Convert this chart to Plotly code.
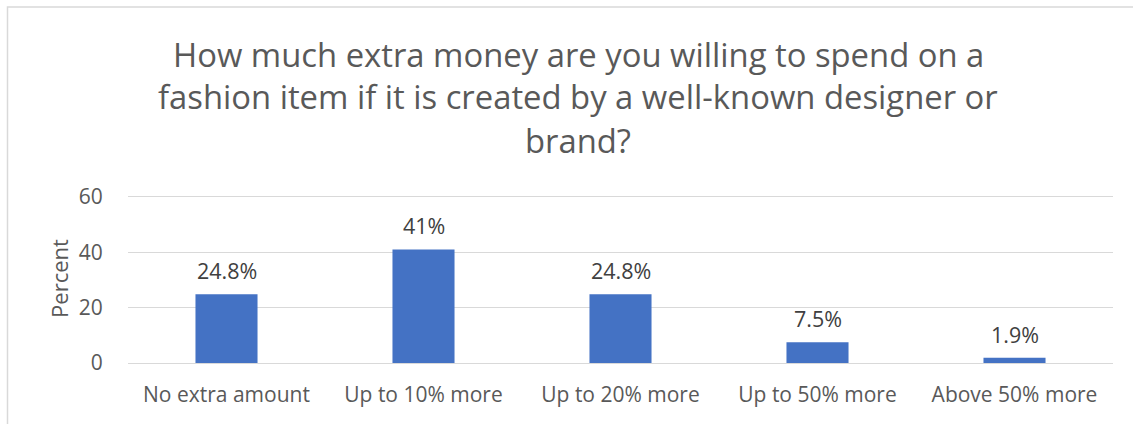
import plotly.graph_objects as go

categories = ["No extra amount", "Up to 10% more", "Up to 20% more", "Up to 50% more", "Above 50% more"]
percent = [24.8, 41, 24.8, 7.5, 1.9]
value_labels = ["24.8%", "41%", "24.8%", "7.5%", "1.9%"]
y_ticks = [0, 20, 40, 60]

title_lines = [
    "How much extra money are you willing to spend on a",
    "fashion item if it is created by a well-known designer or",
    "brand?",
]

FONT = "'Open Sans', Lato, sans-serif"
TEXT_GREY = "#595959"

W, H = 1133, 424
L, R, T, B = 128, 20, 194, 61
pw, ph = W - L - R, H - T - B

fig = go.Figure()
fig.add_trace(go.Bar(
    x=categories, y=percent,
    marker=dict(color="#4472C4", line=dict(width=0)),
    width=0.315,
    hoverinfo="skip",
))

for cat, val, lab in zip(categories, percent, value_labels):
    fig.add_annotation(
        x=cat, y=val, text=lab, showarrow=False,
        yanchor="bottom", yshift=7,
        font=dict(family=FONT, size=21.5, color="#404040"),
    )

# title, one annotation per line
title_cx = 578
for i, line in enumerate(title_lines):
    cy = 54 + 43 * i
    fig.add_annotation(
        text=line, showarrow=False,
        xref="paper", yref="paper",
        x=(title_cx - L) / pw, y=(H - B - cy) / ph,
        xanchor="center", yanchor="middle",
        font=dict(family=FONT, size=32.8, color=TEXT_GREY),
    )

# chart frame
fig.add_shape(
    type="rect", xref="paper", yref="paper",
    x0=(7.5 - L) / pw, x1=(W + 10 - L) / pw,
    y0=(H - B - (H + 10)) / ph, y1=(H - B - 7) / ph,
    line=dict(color="#d9d9d9", width=1.5), fillcolor="rgba(0,0,0,0)", layer="below",
)

fig.update_layout(
    width=W, height=H,
    margin=dict(l=L, r=R, t=T, b=B),
    paper_bgcolor="white", plot_bgcolor="white",
    showlegend=False,
    font=dict(family=FONT, color=TEXT_GREY),
    xaxis=dict(
        showgrid=False, showline=False, zeroline=False,
        tickfont=dict(family=FONT, size=21, color=TEXT_GREY),
        ticks="outside", ticklen=13, tickcolor="rgba(0,0,0,0)",
    ),
    yaxis=dict(
        range=[0, 61], tickvals=y_ticks,
        showgrid=True, gridcolor="#d9d9d9", gridwidth=1,
        zeroline=True, zerolinecolor="#d9d9d9", zerolinewidth=1,
        showline=False,
        tickfont=dict(family=FONT, size=21, color=TEXT_GREY),
        ticks="outside", ticklen=20, tickcolor="rgba(0,0,0,0)",
        title=dict(text="Percent", font=dict(family=FONT, size=22, color=TEXT_GREY), standoff=4),
    ),
)

fig.write_html("out.html")
